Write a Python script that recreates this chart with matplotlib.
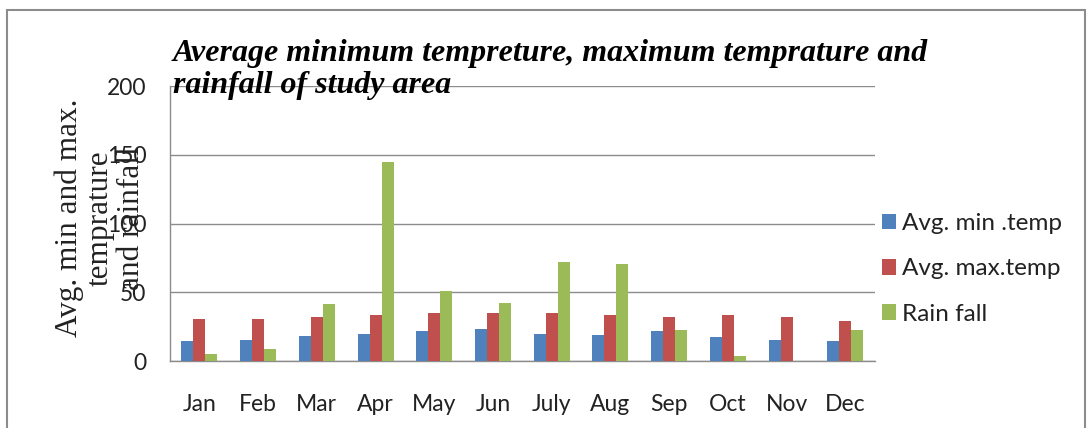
import numpy as np
import matplotlib.pyplot as plt
from matplotlib.patches import Rectangle

months = ["Jan", "Feb", "Mar", "Apr", "May", "Jun", "July", "Aug", "Sep", "Oct", "Nov", "Dec"]
min_temp = [14.5, 15.3, 18, 20, 21.8, 23, 20, 19, 21.8, 17.2, 15.3, 14.3]
max_temp = [30.5, 30.5, 32.2, 33.2, 35, 35, 35, 33.2, 32.2, 33.2, 32.2, 29.3]
rain_fall = [5, 8.7, 41.5, 145, 51, 42.4, 72.2, 70.5, 22.8, 4, 0, 22.8]

series = [
    ("Avg. min .temp", min_temp, "#4F81BD"),
    ("Avg. max.temp", max_temp, "#C0504D"),
    ("Rain fall", rain_fall, "#9BBB59"),
]

sans = ["Lato", "DejaVu Sans"]
serif = ["Liberation Serif", "DejaVu Serif"]

fig = plt.figure(figsize=(10.92, 4.28), dpi=100)
ax = fig.add_axes([0.1557, 0.1565, 0.6453, 0.6425])

x = np.arange(len(months))
w = 0.204
for i, (name, vals, col) in enumerate(series):
    ax.bar(x + (i - 1) * w, vals, width=w, color=col, label=name, zorder=3)

ax.set_xlim(-0.5, len(months) - 0.5)
ax.set_ylim(0, 200)
ax.set_yticks([0, 50, 100, 150, 200])
ax.set_xticks(x)
ax.set_xticklabels(months, fontfamily=sans, fontsize=16.5, color="#222222")
ax.set_yticklabels(["0", "50", "100", "150", "200"], fontfamily=sans, fontsize=16.5,
                   color="#222222")
ax.tick_params(axis="x", length=0, pad=24)
ax.tick_params(axis="y", length=0, pad=17)
ax.grid(axis="y", color="#8c8c8c", linewidth=1, zorder=0)

for s in ["top", "right"]:
    ax.spines[s].set_visible(False)
for s in ["left", "bottom"]:
    ax.spines[s].set_color("#8c8c8c")
    ax.spines[s].set_linewidth(1)

ax.set_ylabel("Avg. min and max.\ntemprature\nand rainfall", fontfamily=serif,
              fontsize=22.5, linespacing=1.1, color="#222222")
ax.yaxis.set_label_coords(-0.034, 0.52)

fig.text(0.158, 0.909, "Average minimum tempreture, maximum temprature and\nrainfall of study area",
         fontfamily=serif, fontsize=23, fontweight="bold", fontstyle="italic",
         ha="left", va="top", linespacing=1.15)

ax.legend(loc="center left", bbox_to_anchor=(1.01, 0.335), frameon=False,
          prop={"family": sans, "size": 17.5}, handlelength=0.6, handleheight=0.6,
          handletextpad=0.25, labelspacing=1.0, borderpad=0, borderaxespad=0,
          labelcolor="#222222")

fig.patches.append(Rectangle((0.0064, -0.01), 0.987, 0.987, transform=fig.transFigure,
                             fill=False, edgecolor="#8c8c8c", linewidth=1.5))

plt.savefig("out.png", dpi=100)
